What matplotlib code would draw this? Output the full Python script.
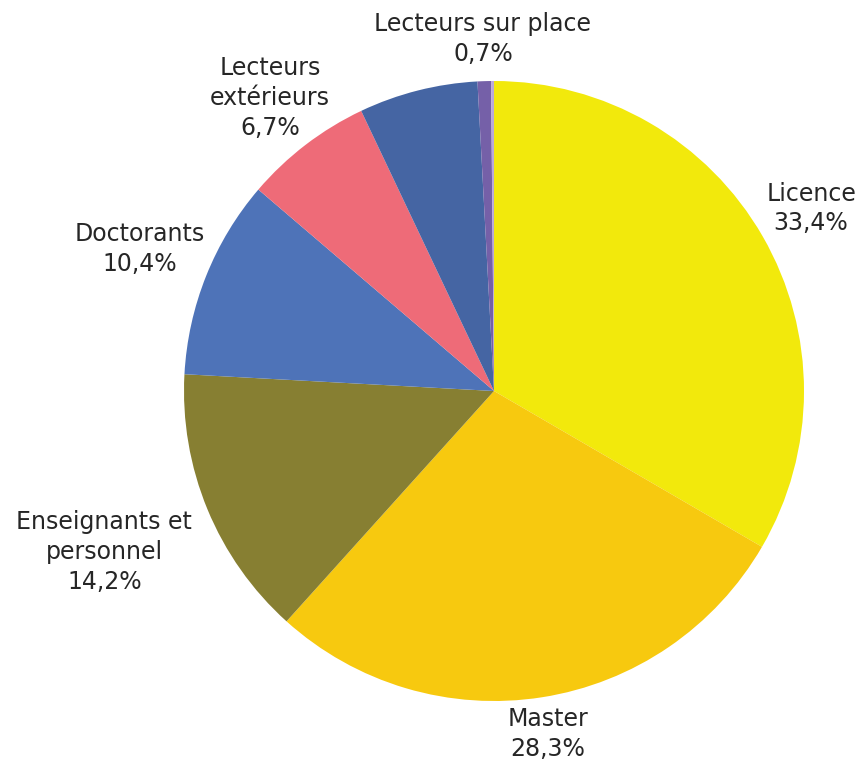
import matplotlib
matplotlib.use("Agg")
import matplotlib.pyplot as plt
import numpy as np

# slices, clockwise from 12 o'clock
categories = ["Licence", "Master", "Enseignants et\npersonnel", "Doctorants",
              "Lecteurs\nextérieurs", "", "Lecteurs sur place", ""]
shares = [33.4, 28.3, 14.2, 10.4, 6.7, 6.2, 0.7, 0.15]
show_label = [True, True, True, True, True, False, True, False]

colors = ["#F2E90C", "#F7C90F", "#877F32", "#4E73B8",
          "#EE6B78", "#4565A3", "#7560A8", "#BBA8DA"]
# distance of each label from the centre (in radii)
label_dist = [1.18, 1.12, 1.36, 1.23, 1.19, 1.0, 1.135, 1.0]

plt.rcParams['font.family'] = ['DejaVu Sans']

fig = plt.figure(figsize=(8.61, 7.63), dpi=100)
cx, cy, r = 494, 391, 310
W, H = 861, 763
ax = fig.add_axes([(cx - r) / W, (H - cy - r) / H, 2 * r / W, 2 * r / H])

wedges, _ = ax.pie(shares, colors=colors, startangle=90, counterclock=False,
                   radius=1.0, wedgeprops=dict(linewidth=0))
ax.set_xlim(-1, 1)
ax.set_ylim(-1, 1)
ax.set_aspect('equal')
ax.axis('off')

for w, name, val, show, d in zip(wedges, categories, shares, show_label, label_dist):
    if not show:
        continue
    ang = np.deg2rad((w.theta1 + w.theta2) / 2)
    x, y = d * np.cos(ang), d * np.sin(ang)
    txt = f"{name}\n{val:.1f}%".replace(".", ",")
    ax.text(x, y, txt, ha='center', va='center', fontsize=17,
            color='#262626', linespacing=1.3, clip_on=False)

fig.savefig("out.png", dpi=100)
